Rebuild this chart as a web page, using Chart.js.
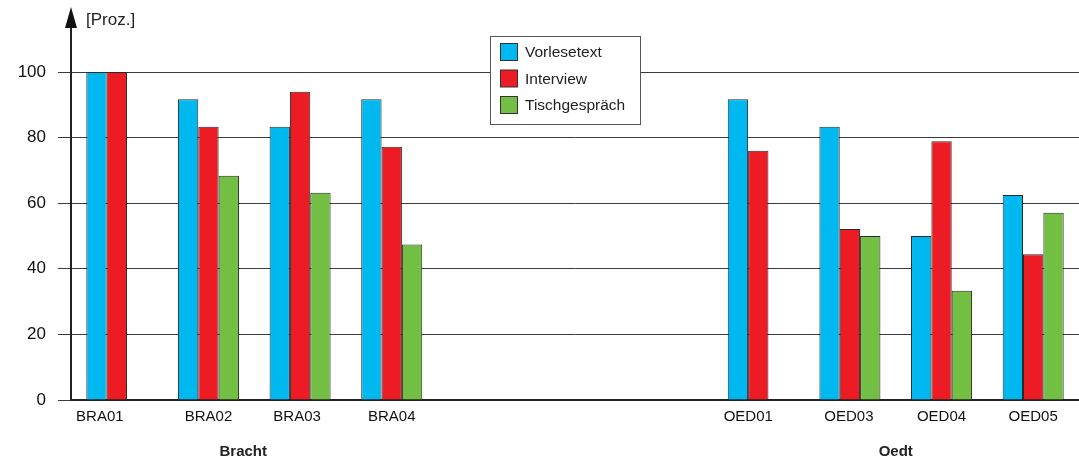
<!DOCTYPE html>
<html>
<head>
<meta charset="utf-8">
<script src="https://cdn.jsdelivr.net/npm/chart.js@4/dist/chart.umd.min.js"></script>
<style>
  html, body { margin: 0; padding: 0; background: #fff; }
  #wrap { width: 1079px; height: 462px; position: relative; }
</style>
</head>
<body>
<div id="wrap"><canvas id="chart"></canvas></div>
<script>
const FONT = '"Liberation Sans", Arial, sans-serif';

// categories (three empty slots separate the two places)
const labels = ["BRA01", "BRA02", "BRA03", "BRA04", "", "", "", "OED01", "OED03", "OED04", "OED05"];

const vorlesetext    = [100, 91.7, 83.3, 91.7, null, null, null, 91.7, 83.3, 50.0, 62.5];
const interview      = [100, 83.3, 94.0, 77.2, null, null, null, 76.0, 52.1, 78.9, 44.4];
const tischgespraech = [null, 68.4, 63.2, 47.4, null, null, null, null, 50.0, 33.3, 57.1];

const yTicks = [0, 20, 40, 60, 80, 100];

const groupNames = ["Bracht", "Oedt"];
const groupAt    = [1.38, 8.5];   // category index the group name is centred on

// the original nudges some category names off their slot centre
const labelShift = [-17, 0, -3, 0, 0, 0, 0, -10, -1, 0, 0];

const COLORS = { blue: "#00b8f0", red: "#ed1c24", green: "#72bf44", line: "#3a3a3a" };

const decorations = {
  id: "decorations",
  afterDraw(chart) {
    const { ctx, chartArea: a, scales: { x } } = chart;
    ctx.save();

    // y axis arrow
    ctx.strokeStyle = "#222";
    ctx.lineWidth = 2;
    ctx.beginPath();
    ctx.moveTo(a.left, a.top);
    ctx.lineTo(a.left, 26);
    ctx.stroke();
    ctx.fillStyle = "#111";
    ctx.beginPath();
    ctx.moveTo(a.left, 7);
    ctx.lineTo(a.left - 6, 28);
    ctx.lineTo(a.left + 6, 28);
    ctx.closePath();
    ctx.fill();

    ctx.font = `17px ${FONT}`;
    ctx.textBaseline = "middle";
    ctx.textAlign = "left";
    ctx.fillStyle = "#222";
    ctx.fillText("[Proz.]", 86, 20);

    // category names
    ctx.font = `15px ${FONT}`;
    ctx.textAlign = "center";
    ctx.fillStyle = "#111";
    chart.data.labels.forEach((l, i) => {
      if (l) ctx.fillText(l, x.getPixelForValue(i) + labelShift[i], 417);
    });

    // group names
    ctx.font = `bold 15px ${FONT}`;
    ctx.fillStyle = "#222";
    groupNames.forEach((n, i) => ctx.fillText(n, x.getPixelForValue(groupAt[i]), 452));

    // legend
    const lx = 490.5, ly = 36.5, lw = 150, lh = 88;
    ctx.fillStyle = "#fff";
    ctx.fillRect(lx, ly, lw, lh);
    ctx.strokeStyle = "#555";
    ctx.lineWidth = 1;
    ctx.strokeRect(lx, ly, lw, lh);
    ctx.font = `15.5px ${FONT}`;
    ctx.textAlign = "left";
    chart.data.datasets.forEach((ds, i) => {
      const cy = 52 + i * 26.5;
      ctx.fillStyle = ds.backgroundColor;
      ctx.fillRect(500.5, cy - 8.5, 17, 17);
      ctx.strokeStyle = "#333";
      ctx.strokeRect(500.5, cy - 8.5, 17, 17);
      ctx.fillStyle = "#222";
      ctx.fillText(ds.label, 525, cy + 1);
    });
    ctx.restore();
  }
};

new Chart(document.getElementById("chart"), {
  type: "bar",
  data: {
    labels,
    datasets: [
      { label: "Vorlesetext",   data: vorlesetext,    backgroundColor: COLORS.blue },
      { label: "Interview",     data: interview,      backgroundColor: COLORS.red },
      { label: "Tischgespräch", data: tischgespraech, backgroundColor: COLORS.green },
    ].map(d => ({ ...d, borderColor: "#2a2a2a", borderWidth: 1, categoryPercentage: 0.666, barPercentage: 1 })),
  },
  options: {
    responsive: true,
    maintainAspectRatio: false,
    animation: false,
    layout: { padding: { top: 72, right: 0, bottom: 0, left: 0 } },
    plugins: { legend: { display: false }, tooltip: { enabled: false } },
    scales: {
      x: {
        grid: { display: false },
        border: { display: true, color: "#222", width: 2 },
        ticks: { display: false },
        afterFit: s => { s.height = 62; },
      },
      y: {
        min: 0,
        max: 100,
        afterBuildTicks: s => { s.ticks = yTicks.map(v => ({ value: v })); },
        grid: { color: COLORS.line, lineWidth: 1, tickLength: 13, tickColor: COLORS.line },
        border: { display: true, color: "#222", width: 2 },
        ticks: { color: "#111", font: { family: FONT, size: 17 }, padding: 12 },
        afterFit: s => { s.width = 71; },
      },
    },
  },
  plugins: [decorations],
});
</script>
</body>
</html>
